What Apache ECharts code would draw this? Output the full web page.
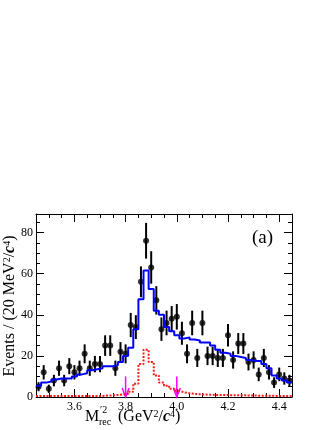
<!DOCTYPE html>
<html lang="en">
<head>
  <meta charset="UTF-8">
  <title>Recoil mass squared</title>
  <script src="https://cdn.jsdelivr.net/npm/echarts@6/dist/echarts.min.js"></script>
  <style>
    html, body, #main {
      margin: 0;
      padding: 0;
      width: 332px;
      height: 430px;
      background: #fff;
    }
  </style>
</head>
<body>
  <div id="main"></div>

  <script>
    // binning: 20 MeV^2 bins from 3.45 to 4.45 GeV^2
    const binStart = 3.45;
    const binWidth = 0.02;

    const dataCounts = [5, 12, 4, 8, 14, 8, 15, 12, 14, 21,
                        14, 16, 16, 25, 25, 14, 22, 21, 35, 34,
                        56, 76, 63, 47, 33, 36, 38, 39, 31, 21,
                        36, 19, 36, 20, 20, 19, 19, 30, 18, 26,
                        26, 17, 18, 11, 19, 12, 7, 11, 9, 8];
    const dataErrors = [2.2, 3.5, 2.0, 2.8, 3.7, 2.8, 3.9, 3.5, 3.7, 4.6,
                        3.7, 4.0, 4.0, 5.0, 5.0, 3.7, 4.7, 4.6, 5.9, 5.8,
                        7.5, 8.7, 7.9, 6.9, 5.7, 6.0, 6.2, 6.2, 5.6, 4.6,
                        6.0, 4.4, 6.0, 4.5, 4.5, 4.4, 4.4, 5.5, 4.2, 5.1,
                        5.1, 4.1, 4.2, 3.3, 4.4, 3.5, 2.6, 3.3, 3.0, 2.8];
    const fitTotal = [5.5, 7, 7.5, 8.5, 9, 9, 9, 10, 11, 11.5,
                      13, 13.5, 14, 15, 15, 15.5, 17, 20, 24, 33,
                      47.5, 61.5, 52.5, 42, 40, 34, 32, 30, 28.5, 29,
                      28, 27.5, 26.5, 26.5, 25, 23, 21.5, 21, 20, 19.5,
                      19, 18, 17.5, 17.5, 16, 14, 10.5, 9, 8, 7];
    const signalShape = [0.5, 0.5, 0.5, 0.5, 0.5, 0.5, 0.5, 0.5, 0.5, 0.5,
                         0.5, 0.5, 0.5, 0.7, 0.8, 1, 1.2, 1.5, 2.5, 6.5,
                         16, 23, 17, 10.5, 7, 5.5, 4, 3, 2.2, 1.8,
                         1.5, 1.3, 1.2, 1.1, 1, 1, 1, 0.9, 0.9, 0.8,
                         0.8, 0.7, 0.7, 0.6, 0.6, 0.6, 0.5, 0.5, 0.5, 0.5];
    const cutValues = [3.8, 4.0];
    const arrowTop = 10;
    const xMajor = [3.6, 3.8, 4.0, 4.2, 4.4];
    const yMajor = [0, 20, 40, 60, 80];

    const serif = 'Liberation Serif';

    const centers = dataCounts.map((_, i) => +(binStart + binWidth * (i + 0.5)).toFixed(3));
    function stepData(vals) {
      const pts = vals.map((v, i) => [+(binStart + binWidth * i).toFixed(3), v]);
      pts.push([+(binStart + binWidth * vals.length).toFixed(3), vals[vals.length - 1]]);
      return pts;
    }

    const xMin = 3.45, xMax = 4.45, yMin = 0, yMax = 89;

    function xAx(pos, major) {
      return {
        type: 'value', position: pos, min: xMin, max: xMax,
        interval: major ? undefined : 0.05,
        axisLine: { show: major, onZero: false, lineStyle: { color: '#000', width: 1 } },
        axisTick: major
          ? { show: true, inside: true, length: 8, customValues: xMajor, lineStyle: { color: '#000' } }
          : { show: true, inside: true, length: 4, lineStyle: { color: '#000' } },
        axisLabel: (major && pos === 'bottom')
          ? { show: true, customValues: xMajor, formatter: v => v.toFixed(1),
              fontFamily: serif, fontSize: 12, color: '#000', margin: 4 }
          : { show: false },
        splitLine: { show: false }
      };
    }
    function yAx(pos, major) {
      return {
        type: 'value', position: pos, min: yMin, max: yMax,
        interval: major ? undefined : 5,
        axisLine: { show: major, onZero: false, lineStyle: { color: '#000', width: 1 } },
        axisTick: major
          ? { show: true, inside: true, length: 8, customValues: yMajor, lineStyle: { color: '#000' } }
          : { show: true, inside: true, length: 4, lineStyle: { color: '#000' } },
        axisLabel: (major && pos === 'left')
          ? { show: true, customValues: yMajor, fontFamily: serif, fontSize: 12, color: '#000', margin: 3 }
          : { show: false },
        splitLine: { show: false }
      };
    }

    const chart = echarts.init(document.getElementById('main'));
    const option = {
      animation: false,
      backgroundColor: '#fff',
      grid: { left: 36, right: 40, top: 214, bottom: 33 },
      xAxis: [xAx('bottom', true), xAx('bottom', false), xAx('top', true), xAx('top', false)],
      yAxis: [yAx('left', true), yAx('left', false), yAx('right', true), yAx('right', false)],
      series: [
        {
          name: 'signal',
          type: 'line',
          step: 'end',
          symbol: 'none',
          data: stepData(signalShape),
          lineStyle: { color: '#ff1a1a', width: 2, type: [2, 1.5] }
        },
        {
          name: 'fit',
          type: 'line',
          step: 'end',
          symbol: 'none',
          data: stepData(fitTotal),
          lineStyle: { color: '#0000ff', width: 2 }
        },
        {
          name: 'errors',
          type: 'custom',
          data: centers.map((c, i) => [c, dataCounts[i], dataErrors[i]]),
          encode: { x: 0, y: 1 },
          renderItem: (params, api) => {
            const x = api.value(0), y = api.value(1), e = api.value(2);
            const lo = api.coord([x, y - e]);
            const hi = api.coord([x, y + e]);
            return {
              type: 'line',
              shape: { x1: lo[0], y1: lo[1], x2: hi[0], y2: hi[1] },
              style: { stroke: '#000', lineWidth: 2 }
            };
          }
        },
        {
          name: 'data',
          type: 'scatter',
          symbol: 'circle',
          symbolSize: 6,
          data: centers.map((c, i) => [c, dataCounts[i]]),
          itemStyle: { color: '#000' }
        },
        {
          name: 'cuts',
          type: 'custom',
          data: cutValues.map(v => [v, arrowTop]),
          encode: { x: 0, y: 1 },
          renderItem: (params, api) => {
            const x = api.value(0);
            const top = api.coord([x, api.value(1)]);
            const tip = api.coord([x, 0]);
            const style = { stroke: '#ff00ff', lineWidth: 1.5, fill: null };
            return {
              type: 'group',
              children: [
                { type: 'line', shape: { x1: top[0], y1: top[1], x2: tip[0], y2: tip[1] }, style },
                { type: 'polyline', shape: { points: [[tip[0] - 3.5, tip[1] - 9], [tip[0], tip[1]], [tip[0] + 3.5, tip[1] - 9]] }, style }
              ]
            };
          }
        }
      ],
      graphic: [
        {
          type: 'text', left: 252, top: 229,
          style: { text: '(a)', font: '19px "Liberation Serif"', fill: '#000' }
        },
        {
          type: 'text', x: 10, y: 306, rotation: Math.PI / 2,
          style: {
            text: 'Events / (20 MeV{sup|2}/{c|c}{sup|4})',
            align: 'center', verticalAlign: 'middle',
            fontFamily: serif, fontSize: 16, fill: '#000',
            rich: {
              sup: { fontFamily: serif, fontSize: 10, verticalAlign: 'top', lineHeight: 16 },
              c: { fontFamily: serif, fontSize: 16, fontStyle: 'italic', fontWeight: 'bold' }
            }
          }
        },
        {
          type: 'text', left: 85, top: 409,
          style: { text: 'M', font: '16px "Liberation Serif"', fill: '#000' }
        },
        {
          type: 'text', left: 100, top: 405,
          style: { text: '\u20322', font: '10px "Liberation Serif"', fill: '#000' }
        },
        {
          type: 'text', left: 99, top: 417,
          style: { text: 'rec', font: '10px "Liberation Serif"', fill: '#000' }
        },
        {
          type: 'text', left: 118, top: 409,
          style: {
            text: '(GeV{sup|2}/{c|c}{sup|4})',
            fontFamily: serif, fontSize: 16, fill: '#000',
            rich: {
              sup: { fontFamily: serif, fontSize: 10, verticalAlign: 'top', lineHeight: 16 },
              c: { fontFamily: serif, fontSize: 16, fontStyle: 'italic', fontWeight: 'bold' }
            }
          }
        }
      ]
    };
    chart.setOption(option);
  </script>
</body>
</html>
